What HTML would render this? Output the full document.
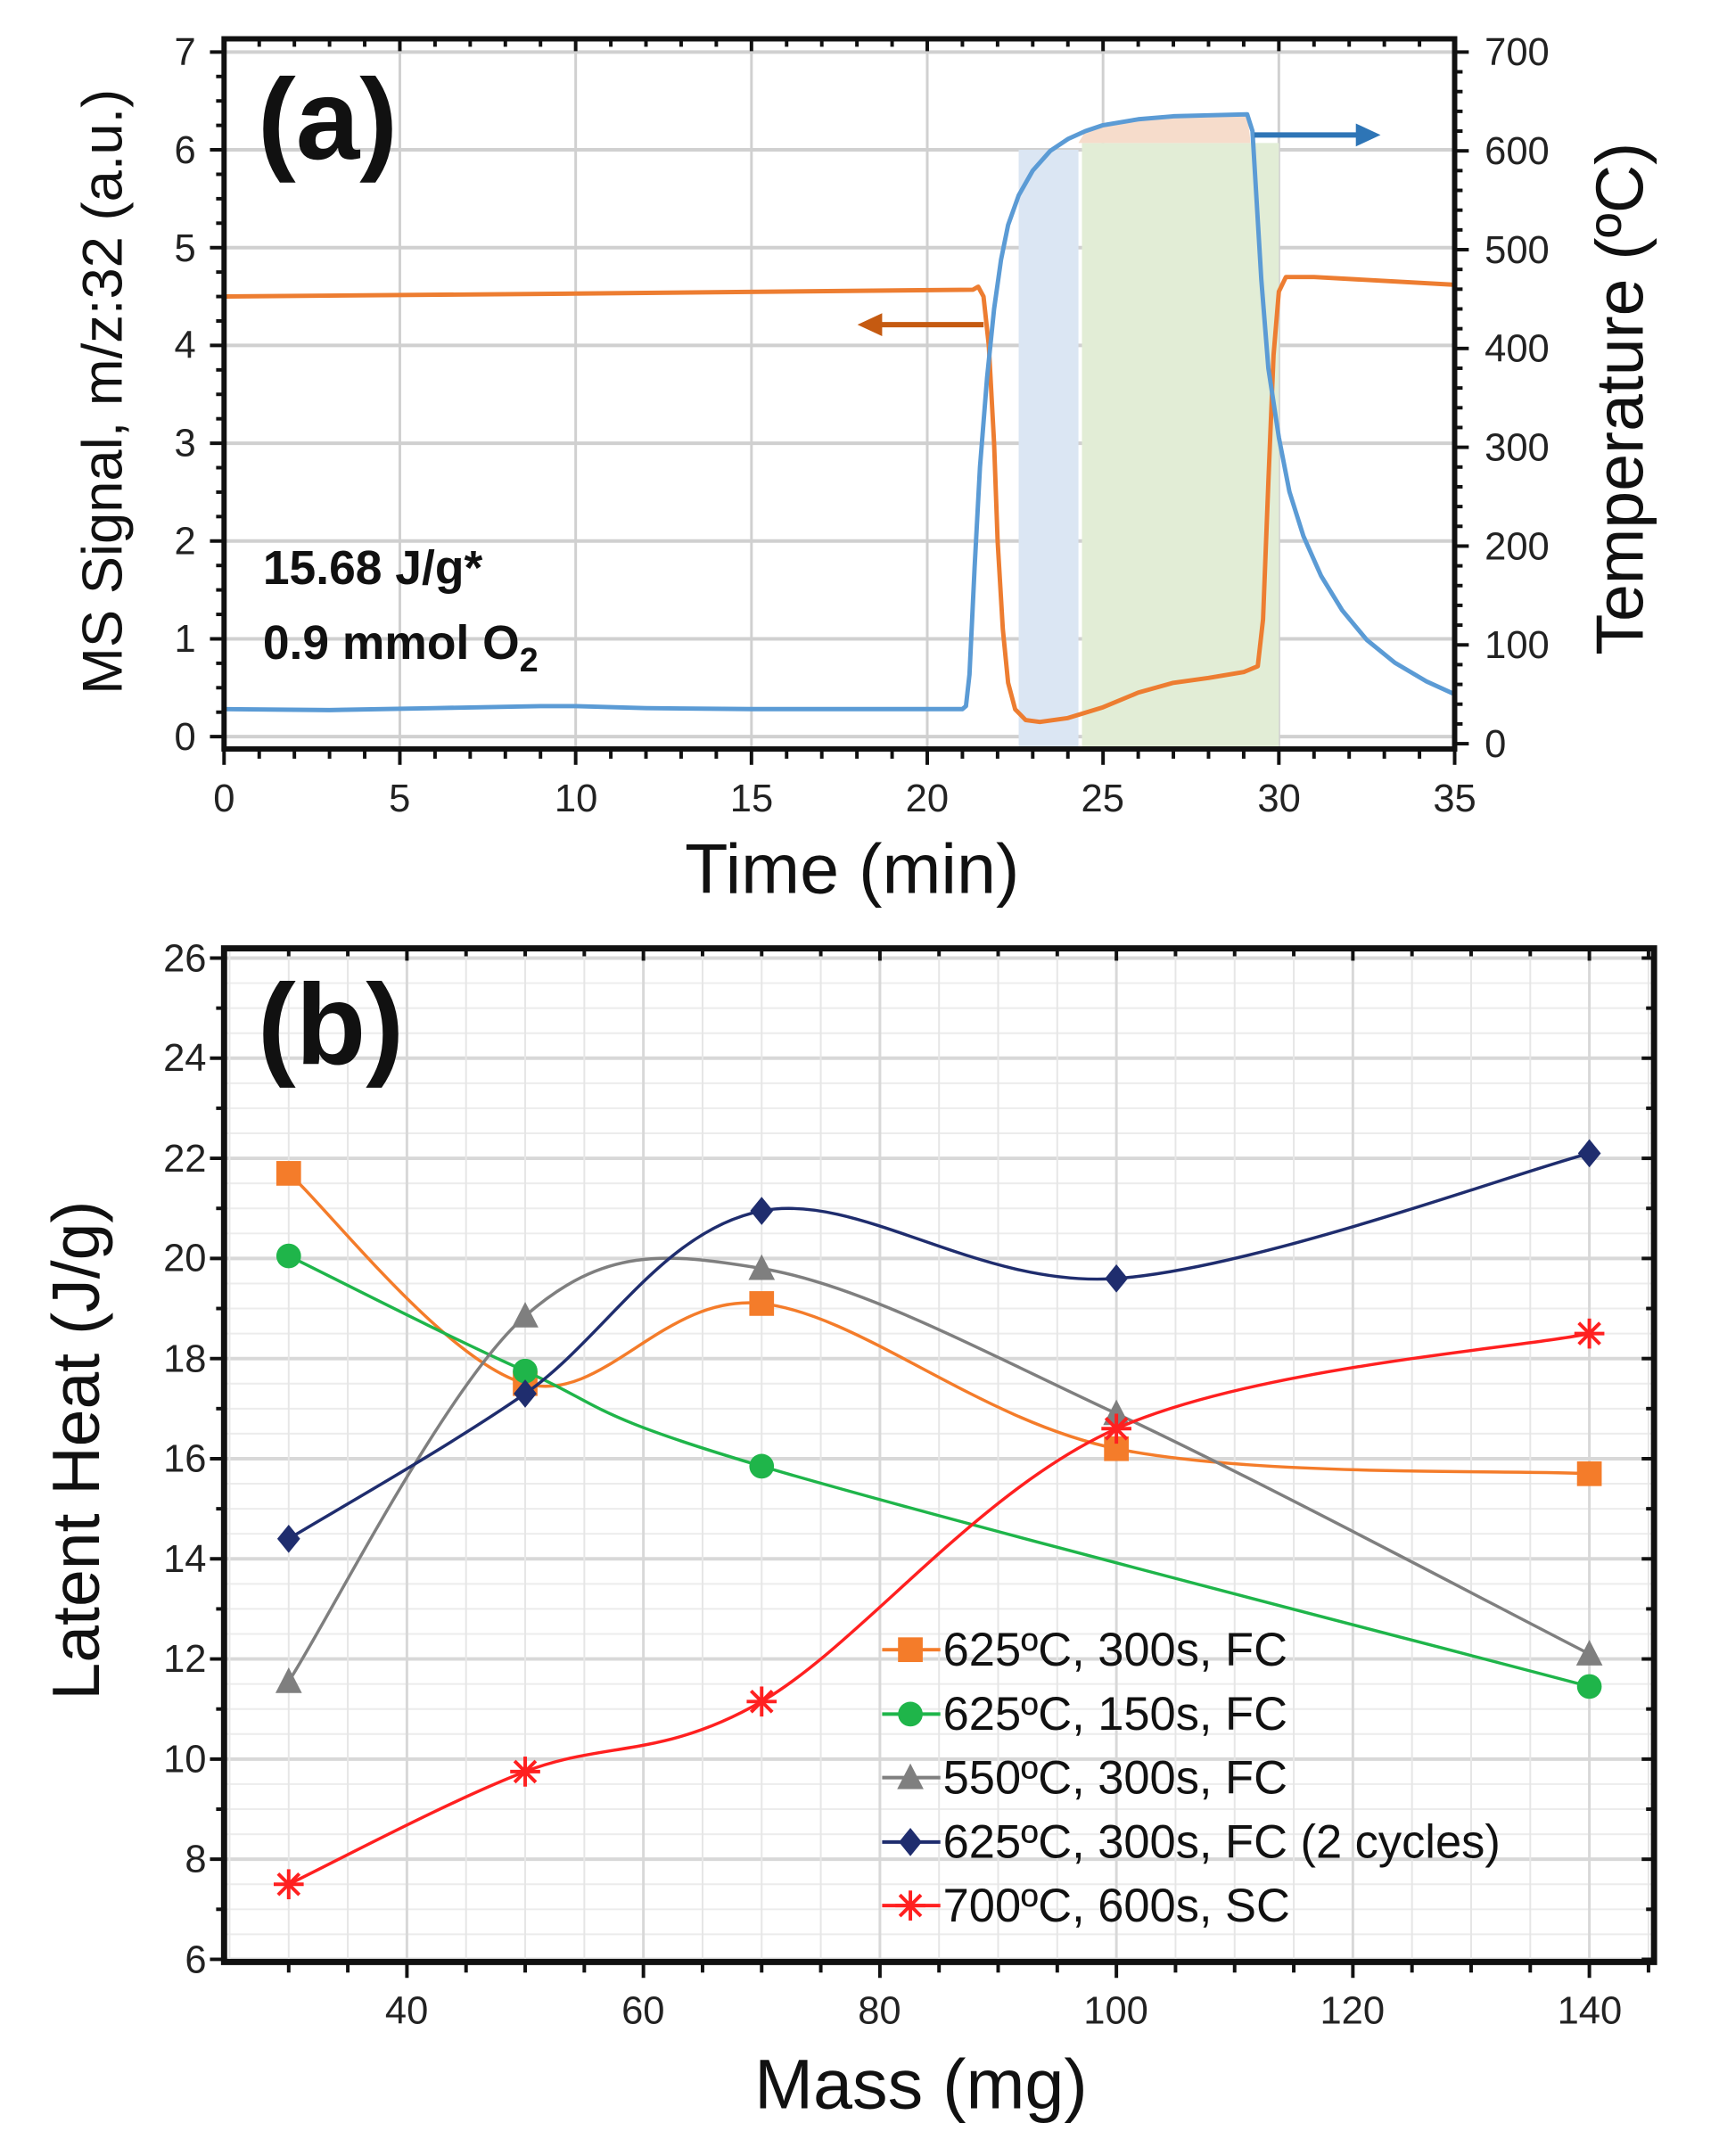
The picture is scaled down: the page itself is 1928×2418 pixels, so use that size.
<!DOCTYPE html>
<html><head><meta charset="utf-8"><style>
html,body{margin:0;padding:0;background:#fff;}
svg{display:block;font-family:"Liberation Sans",Arial,sans-serif;}
</style></head><body>
<svg id="s" width="1928" height="2418" viewBox="0 0 1928 2418" xmlns="http://www.w3.org/2000/svg">
<rect width="1928" height="2418" fill="#fff"/>
<g transform="scale(0.9894)">
<g id="ga"></g>
<g id="gb"></g>
<!-- Panel a text -->
<g font-size="44" fill="#222" text-anchor="end">
<text x="222" y="74">7</text><text x="222" y="185">6</text><text x="222" y="296">5</text><text x="222" y="406">4</text><text x="222" y="517">3</text><text x="222" y="628">2</text><text x="222" y="739">1</text><text x="222" y="850">0</text>
</g>
<g font-size="44" fill="#222" text-anchor="start">
<text x="1683" y="74">700</text><text x="1683" y="186">600</text><text x="1683" y="298">500</text><text x="1683" y="410">400</text><text x="1683" y="522">300</text><text x="1683" y="634">200</text><text x="1683" y="746">100</text><text x="1683" y="858">0</text>
</g>
<g font-size="44" fill="#222" text-anchor="middle">
<text x="254" y="920">0</text><text x="453" y="920">5</text><text x="653" y="920">10</text><text x="852" y="920">15</text><text x="1051" y="920">20</text><text x="1250" y="920">25</text><text x="1450" y="920">30</text><text x="1649" y="920">35</text>
</g>
<text x="966" y="1012" font-size="80" text-anchor="middle" fill="#111">Time (min)</text>
<text transform="translate(138,444) rotate(-90)" font-size="64" text-anchor="middle" fill="#111">MS Signal, m/z:32 (a.u.)</text>
<text transform="translate(1862,452) rotate(-90)" font-size="76" text-anchor="middle" fill="#111">Temperature (ºC)</text>
<text x="292" y="180" font-size="130" font-weight="bold" fill="#111">(a)</text>
<text x="298" y="662" font-size="54" font-weight="bold" fill="#111">15.68 J/g*</text>
<text x="298" y="747" font-size="54" font-weight="bold" fill="#111">0.9 mmol O<tspan font-size="38" dy="14">2</tspan></text>
<!-- Panel b text -->
<g font-size="44" fill="#222" text-anchor="end">
<text x="234" y="1101">26</text><text x="234" y="1214">24</text><text x="234" y="1328">22</text><text x="234" y="1441">20</text><text x="234" y="1555">18</text><text x="234" y="1668">16</text><text x="234" y="1782">14</text><text x="234" y="1895">12</text><text x="234" y="2009">10</text><text x="234" y="2122">8</text><text x="234" y="2236">6</text>
</g>
<g font-size="44" fill="#222" text-anchor="middle">
<text x="461" y="2294">40</text><text x="729" y="2294">60</text><text x="997" y="2294">80</text><text x="1265" y="2294">100</text><text x="1533" y="2294">120</text><text x="1802" y="2294">140</text>
</g>
<text x="1044" y="2390" font-size="80" text-anchor="middle" fill="#111">Mass (mg)</text>
<text transform="translate(112,1644) rotate(-90)" font-size="76" text-anchor="middle" fill="#111">Latent Heat (J/g)</text>
<text x="292" y="1206" font-size="130" font-weight="bold" fill="#111">(b)</text>
<g font-size="53" fill="#111">
<text x="1069" y="1888">625ºC, 300s, FC</text>
<text x="1069" y="1961">625ºC, 150s, FC</text>
<text x="1069" y="2033">550ºC, 300s, FC</text>
<text x="1069" y="2106">625ºC, 300s, FC (2 cycles)</text>
<text x="1069" y="2178">700ºC, 600s, SC</text>
</g>
</g>
</svg>
<script>
var NS="http://www.w3.org/2000/svg";
function el(p,t,a){var e=document.createElementNS(NS,t);for(var k in a)e.setAttribute(k,a[k]);p.appendChild(e);return e;}
function cr(pts){var d="M"+pts[0][0]+","+pts[0][1];for(var i=0;i<pts.length-1;i++){var p0=pts[i-1]||pts[i],p1=pts[i],p2=pts[i+1],p3=pts[i+2]||p2;var c1=[p1[0]+(p2[0]-p0[0])/6,p1[1]+(p2[1]-p0[1])/6],c2=[p2[0]-(p3[0]-p1[0])/6,p2[1]-(p3[1]-p1[1])/6];d+=" C"+c1[0]+","+c1[1]+" "+c2[0]+","+c2[1]+" "+p2[0]+","+p2[1];}return d;}
function pl(pts){return pts.map(function(p){return p[0].toFixed(1)+","+p[1].toFixed(1)}).join(" ");}
// Panel a
var ga=document.getElementById("ga");
var L=254,R=1649,T=44,B=849;
function xt(t){return L+t*39.857;}function yl(v){return 835-v*110.86;}function yT(c){return 843-c*1.12;}
for(var v=0;v<=7;v++)el(ga,"line",{x1:L,x2:R,y1:yl(v),y2:yl(v),stroke:"#d0d0d0","stroke-width":4});
for(var t=5;t<35;t+=5)el(ga,"line",{x1:xt(t),x2:xt(t),y1:T,y2:B,stroke:"#d0d0d0","stroke-width":3});
el(ga,"rect",{x:xt(22.6),y:yl(6),width:xt(24.3)-xt(22.6),height:B-yl(6),fill:"#dbe6f3"});
el(ga,"rect",{x:xt(24.4),y:yl(6.07),width:xt(30)-xt(24.4),height:B-yl(6.07),fill:"#e2edd6"});
var tp=[[0,35],[3,34],[6,36],[9,38],[10,38],[12,36],[15,35],[20,35],[21,35],[21.1,38],[21.2,70],[21.35,180],[21.5,280],[21.7,370],[21.9,440],[22.1,490],[22.3,525],[22.6,555],[23,580],[23.5,600],[24,612],[24.5,620],[25,626],[26,632],[27,635],[28,636],[29.1,637],[29.25,620],[29.35,560],[29.5,470],[29.7,380],[30,310],[30.3,255],[30.7,210],[31.2,170],[31.8,135],[32.5,105],[33.3,82],[34.2,63],[35,50]];
var pe=[[xt(24.3),yl(6.07)]];tp.forEach(function(p){if(p[0]>=24.3&&p[0]<=29.1)pe.push([xt(p[0]),yT(p[1])]);});pe.push([xt(29.2),yl(6.07)]);
el(ga,"polygon",{points:pl(pe),fill:"#f6dccb"});
var op=[[0,4.5],[10,4.53],[21.3,4.57],[21.45,4.6],[21.6,4.5],[21.75,4.0],[21.9,3.0],[22.0,2.0],[22.15,1.1],[22.3,0.55],[22.5,0.28],[22.8,0.17],[23.2,0.15],[24,0.19],[25,0.3],[26,0.45],[27,0.55],[28,0.6],[29,0.66],[29.4,0.72],[29.55,1.2],[29.7,2.6],[29.85,3.9],[30.0,4.55],[30.2,4.7],[31,4.7],[35,4.62]];
el(ga,"polyline",{points:pl(op.map(function(p){return[xt(p[0]),yl(p[1])]})),fill:"none",stroke:"#ed7d31","stroke-width":5,"stroke-linejoin":"round"});
el(ga,"polyline",{points:pl(tp.map(function(p){return[xt(p[0]),yT(p[1])]})),fill:"none",stroke:"#5b9bd5","stroke-width":5,"stroke-linejoin":"round"});
// arrows
el(ga,"line",{x1:1115,x2:995,y1:368,y2:368,stroke:"#c55a11","stroke-width":6});
el(ga,"polygon",{points:"972,368 1000,355 1000,381",fill:"#c55a11"});
el(ga,"line",{x1:1422,x2:1540,y1:153,y2:153,stroke:"#2e75b6","stroke-width":6});
el(ga,"polygon",{points:"1565,153 1537,140 1537,166",fill:"#2e75b6"});
// frame and ticks a
el(ga,"rect",{x:L,y:T,width:R-L,height:B-T,fill:"none",stroke:"#111","stroke-width":6});
for(var t=0;t<=35;t+=1){var big=t%5==0;el(ga,"line",{x1:xt(t),x2:xt(t),y1:B,y2:B+(big?18:11),stroke:"#111","stroke-width":4});el(ga,"line",{x1:xt(t),x2:xt(t),y1:T,y2:T+(big?14:9),stroke:"#111","stroke-width":4});}
for(var v=0;v<=7;v+=0.25){var big=v%1==0;el(ga,"line",{x1:L,x2:L-(big?16:9),y1:yl(v),y2:yl(v),stroke:"#111","stroke-width":4});}
for(var c=0;c<=700;c+=20){var big=c%100==0;el(ga,"line",{x1:R,x2:R+(big?16:9),y1:yT(c),y2:yT(c),stroke:"#111","stroke-width":4});}
// Panel b
var gb=document.getElementById("gb");
var L2=254,R2=1875,T2=1075,B2=2224;
function xm(m){return 461.3+(m-40)*13.404;}function yh(h){return 2221-(h-6)*56.75;}
for(var h=6;h<=26;h+=0.5){var big=h%2==0;el(gb,"line",{x1:L2,x2:R2,y1:yh(h),y2:yh(h),stroke:big?"#d8d8d8":"#ececec","stroke-width":big?4:2});}
for(var m=25;m<=145;m+=5){var big=m%20==0;el(gb,"line",{x1:xm(m),x2:xm(m),y1:T2,y2:B2,stroke:big?"#d8d8d8":"#e6e6e6","stroke-width":big?3:2});}
var S=[
{c:"#f47c2a",mk:"sq",d:[[30,21.7],[50,17.5],[70,19.1],[100,16.2],[140,15.7]]},
{c:"#1fb54a",mk:"ci",d:[[30,20.05],[50,17.75],[70,15.85],[140,11.45]]},
{c:"#7f7f7f",mk:"tr",d:[[30,11.55],[50,18.85],[70,19.8],[100,16.9],[140,12.1]]},
{c:"#1f2d6e",mk:"di",d:[[30,14.4],[50,17.3],[70,20.95],[100,19.6],[140,22.1]]},
{c:"#ff2020",mk:"st",d:[[30,7.5],[50,9.75],[70,11.15],[100,16.6],[140,18.5]]}];
function marker(g,k,x,y,c){
 if(k=="sq")el(g,"rect",{x:x-14,y:y-14,width:28,height:28,fill:c});
 else if(k=="ci")el(g,"circle",{cx:x,cy:y,r:14,fill:c});
 else if(k=="tr")el(g,"polygon",{points:(x)+","+(y-16)+" "+(x-15)+","+(y+13)+" "+(x+15)+","+(y+13),fill:c});
 else if(k=="di")el(g,"polygon",{points:x+","+(y-16)+" "+(x+13)+","+y+" "+x+","+(y+16)+" "+(x-13)+","+y,fill:c});
 else{for(var a=0;a<4;a++){var an=a*Math.PI/4;el(g,"line",{x1:x-17*Math.cos(an),y1:y-17*Math.sin(an),x2:x+17*Math.cos(an),y2:y+17*Math.sin(an),stroke:c,"stroke-width":4});}}
}
S.forEach(function(s,i){
 var pts=s.d.map(function(p){return[xm(p[0]),yh(p[1])]});
 el(gb,"path",{d:cr(pts),fill:"none",stroke:s.c,"stroke-width":3.5});
 pts.forEach(function(p){marker(gb,s.mk,p[0],p[1],s.c);});
 var ly=[1870,1943,2015,2088,2160][i];
 el(gb,"line",{x1:1000,x2:1066,y1:ly,y2:ly,stroke:s.c,"stroke-width":4});
 marker(gb,s.mk,1032,ly,s.c);
});
el(gb,"rect",{x:L2,y:T2,width:R2-L2,height:B2-T2,fill:"none",stroke:"#111","stroke-width":7});
for(var m=30;m<=145;m+=5){var big=m%20==0;el(gb,"line",{x1:xm(m),x2:xm(m),y1:B2,y2:B2+(big?18:12),stroke:"#111","stroke-width":4});el(gb,"line",{x1:xm(m),x2:xm(m),y1:T2,y2:T2+(big?14:9),stroke:"#111","stroke-width":4});}
for(var h=6;h<=26;h+=1){var big=h%2==0;el(gb,"line",{x1:L2,x2:L2-(big?16:9),y1:yh(h),y2:yh(h),stroke:"#111","stroke-width":4});el(gb,"line",{x1:R2,x2:R2-(big?14:9),y1:yh(h),y2:yh(h),stroke:"#111","stroke-width":4});}
</script>
</body></html>
